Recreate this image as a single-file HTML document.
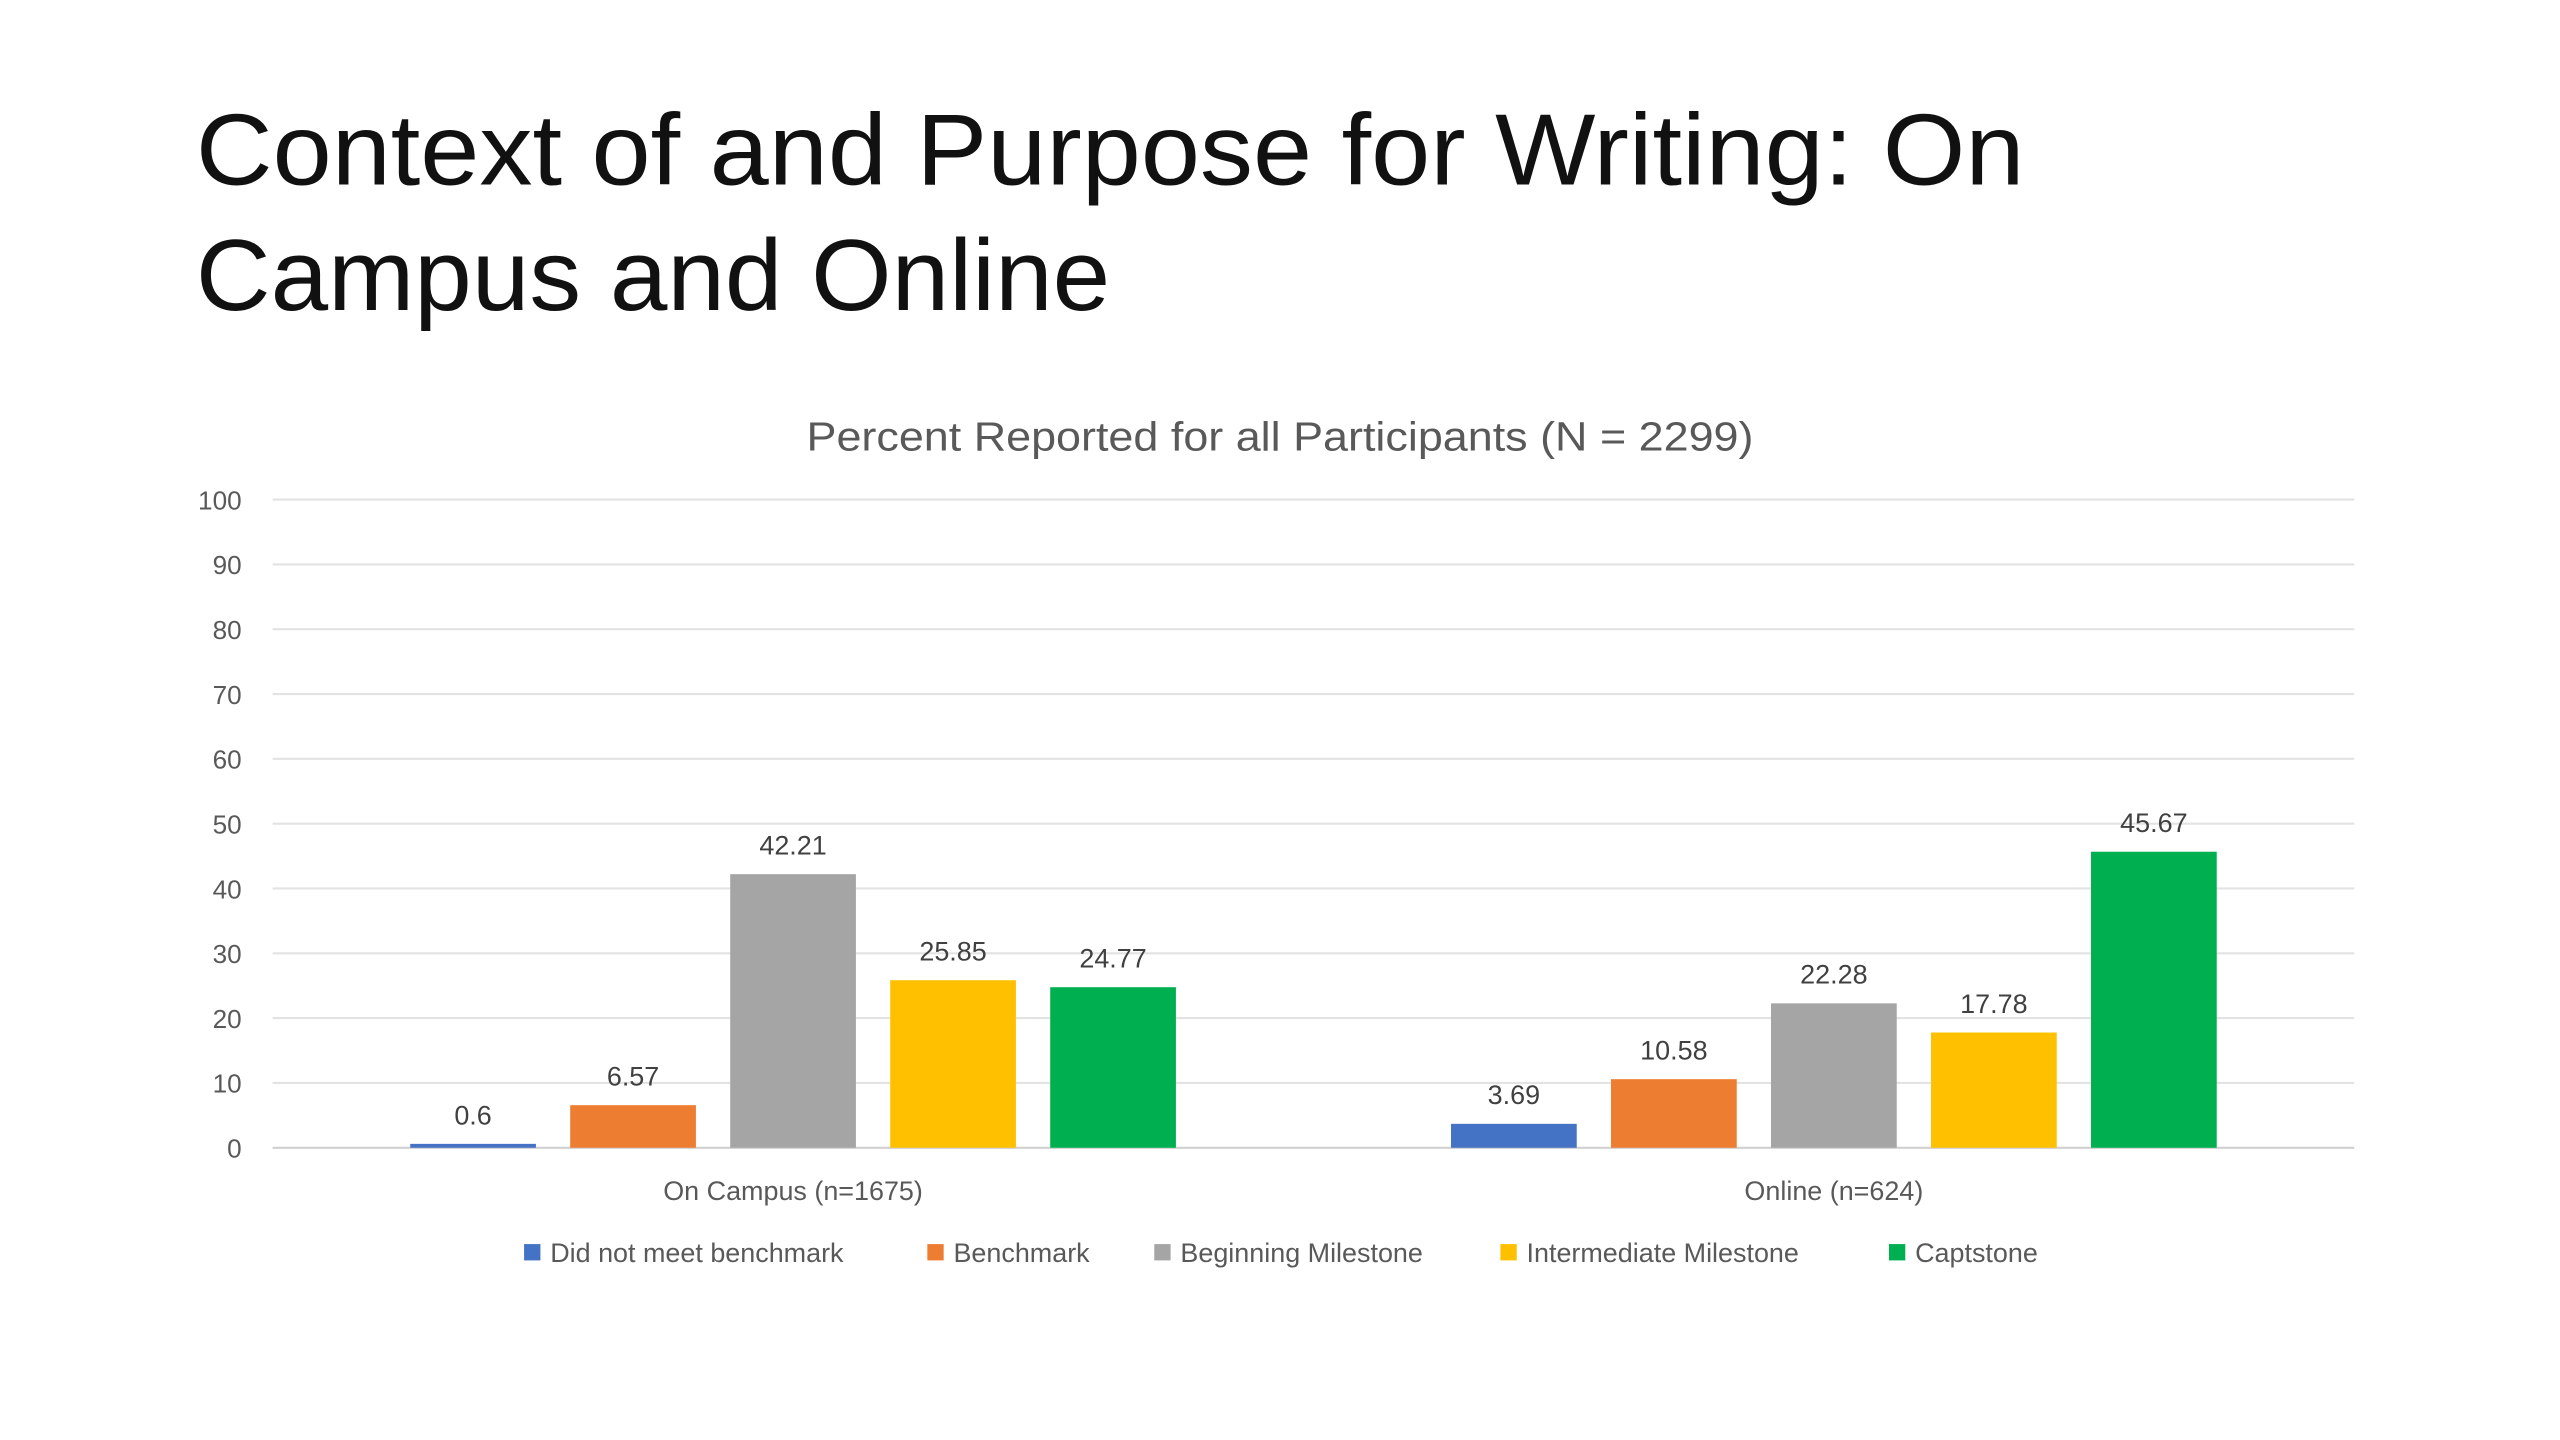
<!DOCTYPE html>
<html><head><meta charset="utf-8"><style>
html,body{margin:0;padding:0;background:#fff;}
svg{display:block;font-family:"Liberation Sans",sans-serif;}
</style></head><body>
<svg id="chart" width="2560" height="1440" viewBox="0 0 1568 882" xmlns="http://www.w3.org/2000/svg">
<rect width="1568" height="882" fill="#fff"/>
<text x="120" y="113" font-size="62" fill="#111" textLength="1120" lengthAdjust="spacingAndGlyphs">Context of and Purpose for Writing: On</text>
<text x="120" y="190" font-size="62" fill="#111" textLength="560" lengthAdjust="spacingAndGlyphs">Campus and Online</text>
<text x="784" y="276" font-size="25" fill="#595959" text-anchor="middle" textLength="580" lengthAdjust="spacingAndGlyphs">Percent Reported for all Participants (N = 2299)</text>
<g id="grid"></g><g id="bars"></g><g id="legend"></g>
</svg>
<script>
const categories=["On Campus (n=1675)","Online (n=624)"];
const seriesNames=["Did not meet benchmark","Benchmark","Beginning Milestone","Intermediate Milestone","Captstone"];
const didNotMeet=[0.6,3.69];
const benchmark=[6.57,10.58];
const beginning=[42.21,22.28];
const intermediate=[25.85,17.78];
const capstone=[24.77,45.67];
const yTicks=[0,10,20,30,40,50,60,70,80,90,100];
const colors=["#4472C4","#ED7D31","#A5A5A5","#FFC000","#00B050"];
const series=[didNotMeet,benchmark,beginning,intermediate,capstone];
const NS="http://www.w3.org/2000/svg";
const x0=167,x1=1442,yBase=703,yTop=306;
function y(v){return yBase-(v/100)*(yBase-yTop);}
const catW=(x1-x0)/categories.length;
function catCenter(i){return x0+catW*(i+0.5);}
const step=98,bw=77;
function barX(ci,si){return catCenter(ci)+(si-(series.length-1)/2)*step-bw/2;}
function mk(tag,attrs,parent){const e=document.createElementNS(NS,tag);for(const k in attrs)e.setAttribute(k,attrs[k]);parent.appendChild(e);return e;}
const grid=document.getElementById('grid');
yTicks.forEach(t=>{
 const l=mk('line',{x1:x0,x2:x1,y1:y(t),y2:y(t),stroke:t===0?'#d0d0d0':'#e3e3e3','stroke-width':1.3},grid);
 
 
 const tx=mk('text',{x:148,y:y(t)+6,'font-size':16,fill:'#595959','text-anchor':'end'},grid);
 tx.textContent=t;
 
 
});
const bars=document.getElementById('bars');
categories.forEach((c,ci)=>{
 const ct=mk('text',{x:catCenter(ci),y:735,'font-size':16.5,fill:'#595959','text-anchor':'middle'},bars);
 ct.textContent=c;
 
 
 series.forEach((s,si)=>{
  const v=s[ci];
  const r=mk('rect',{x:barX(ci,si),y:y(v),width:bw,height:yBase-y(v),fill:colors[si]},bars);
  
  
  const lt=mk('text',{x:barX(ci,si)+bw/2,y:y(v)-12,'font-size':16.5,fill:'#404040','text-anchor':'middle'},bars);
  lt.textContent=v;
  
  
 });
});
const legend=document.getElementById('legend');
const lx=[321,568,707,919,1157];
seriesNames.forEach((n,i)=>{
 const sw=mk('rect',{x:lx[i],y:762,width:10,height:10,fill:colors[i]},legend);
 
 
 const t=mk('text',{x:lx[i]+16,y:773,'font-size':16.5,fill:'#595959'},legend);
 t.textContent=n;
 
 
});
</script>
</body></html>
